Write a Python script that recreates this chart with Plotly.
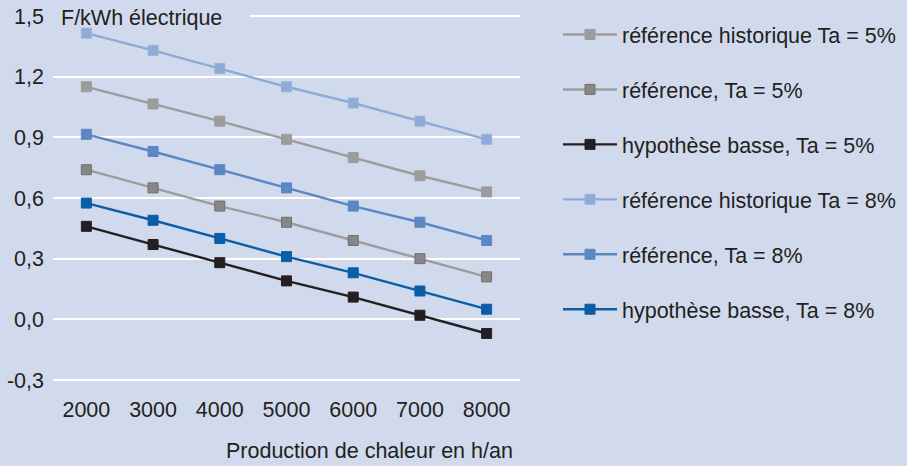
import plotly.graph_objects as go

hours = ["2000", "3000", "4000", "5000", "6000", "7000", "8000"]
ref_hist_5 = [1.15, 1.065, 0.98, 0.89, 0.80, 0.71, 0.63]
ref_5 = [0.74, 0.65, 0.56, 0.48, 0.39, 0.30, 0.21]
hyp_5 = [0.46, 0.37, 0.28, 0.19, 0.11, 0.02, -0.07]
ref_hist_8 = [1.415, 1.33, 1.24, 1.15, 1.07, 0.98, 0.89]
ref_8 = [0.915, 0.83, 0.74, 0.65, 0.56, 0.48, 0.39]
hyp_8 = [0.575, 0.49, 0.40, 0.31, 0.23, 0.14, 0.05]

y_tick_vals = [-0.3, 0.0, 0.3, 0.6, 0.9, 1.2, 1.5]
y_tick_labels = ["-0,3", "0,0", "0,3", "0,6", "0,9", "1,2", "1,5"]

# name, values, line colour, marker fill, marker outline
series = [
    ("référence historique Ta = 5%", ref_hist_5, "#9c9c9c", "#9c9c9c", "#9c9c9c"),
    ("référence, Ta = 5%", ref_5, "#9c9c9c", "#878787", "#6e6e6e"),
    ("hypothèse basse, Ta = 5%", hyp_5, "#231f20", "#231f20", "#231f20"),
    ("référence historique Ta = 8%", ref_hist_8, "#8eaad6", "#8eaad6", "#9ab3dc"),
    ("référence, Ta = 8%", ref_8, "#5b87c4", "#5b87c4", "#5b87c4"),
    ("hypothèse basse, Ta = 8%", hyp_8, "#0b5da6", "#0b5da6", "#0b5da6"),
]

BG = "#d0daec"
TXT = "#231f20"
FONT = "Liberation Sans, Arial, sans-serif"
FS = 21.5

fig = go.Figure()
for i, (name, vals, lc, mc, mo) in enumerate(series):
    fig.add_trace(go.Scatter(
        x=hours, y=vals, name=name, mode="lines+markers",
        line=dict(color=lc, width=2.4),
        marker=dict(symbol="square", size=10, color=mc, line=dict(width=1, color=mo)),
        legendgroup=f"g{i}",
    ))

fig.update_layout(
    width=907, height=466,
    paper_bgcolor=BG, plot_bgcolor=BG,
    margin=dict(l=53, r=387, t=14, b=84, autoexpand=False),
    separators=",.",
    font=dict(family=FONT, size=FS, color=TXT),
    showlegend=True,
    legend=dict(
        x=(558 - 53) / 467, y=1.0, xanchor="left", yanchor="top",
        bgcolor="rgba(0,0,0,0)", font=dict(size=FS, color=TXT),
        tracegroupgap=24, itemwidth=54,
    ),
    xaxis=dict(
        type="category", range=[-0.5, 6.5], showgrid=False, zeroline=False,
        showline=False, ticks="", tickfont=dict(size=FS, color=TXT),
        ticklabelstandoff=12,
    ),
    yaxis=dict(
        range=[-0.31, 1.51], tickvals=y_tick_vals, ticktext=y_tick_labels,
        showgrid=True, gridcolor="white", gridwidth=2,
        zeroline=False, showline=False, ticks="", ticklabelstandoff=8,
        tickfont=dict(size=FS, color=TXT),
    ),
    shapes=[dict(type="rect", xref="paper", yref="paper", x0=0, x1=197 / 467,
                 y0=(382 - 22) / 368, y1=(382 - 9) / 368, fillcolor=BG,
                 line=dict(width=0), layer="above")],
    annotations=[
        dict(text="F/kWh électrique", xref="paper", yref="paper", x=6 / 467,
             y=(466 - 84 - 18) / 368, xanchor="left", yanchor="middle",
             showarrow=False, font=dict(size=FS, color=TXT)),
        dict(text="Production de chaleur en h/an", xref="paper", yref="paper",
             x=1 - 5 / 467, y=-(451 - 382) / 368, xanchor="right", yanchor="middle",
             showarrow=False, font=dict(size=FS, color=TXT)),
    ],
)

fig.write_html("out.html", config={"displayModeBar": False},
               post_script="document.body.style.margin='0';")
